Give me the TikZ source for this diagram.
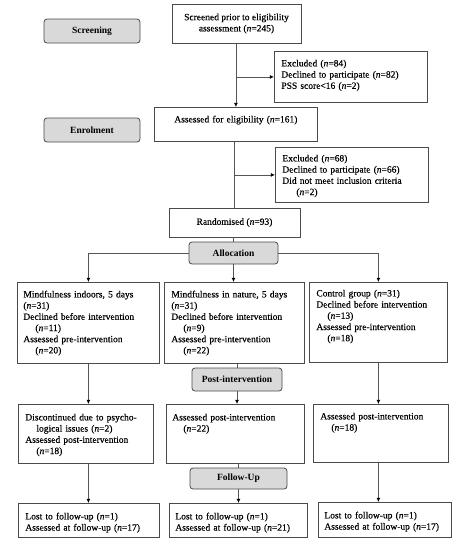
\documentclass[tikz,border=0pt]{standalone}
\usepackage{fontspec}
\setmainfont{Liberation Serif}[UprightFeatures={FakeBold=0.35},ItalicFeatures={FakeBold=0.35}]
\usetikzlibrary{arrows.meta}
\definecolor{boxc}{HTML}{4A4A4A}
\definecolor{linec}{HTML}{555555}
\definecolor{grayfill}{HTML}{D9D9D9}
\begin{document}
\begin{tikzpicture}[x=1pt,y=-1pt,
  tbox/.style={draw=boxc, line width=0.8pt, anchor=north west, inner xsep=7pt, inner ysep=0pt,
    align=left, text height=15pt, font=\fontsize{9.5}{11.2}\selectfont},
  cbox/.style={draw=boxc, line width=0.8pt, inner sep=0pt, align=center, font=\fontsize{9.5}{11.2}\selectfont},
  gbox/.style={draw=boxc, line width=0.8pt, fill=grayfill, rounded corners=3pt, inner sep=0pt,
    font=\fontsize{9.5}{11}\selectfont\bfseries},
  conn/.style={draw=linec, line width=0.8pt},
  arr/.style={conn, -{Latex[length=4.2pt,width=4pt,color=black]}}
]
\useasboundingbox (0,0) rectangle (459,550);
% phase labels
\node[gbox, minimum width=96pt, minimum height=24pt] (screen) at (92,31) {Screening};
\node[gbox, minimum width=96pt, minimum height=24pt] (enrol) at (92,130) {Enrolment};
% screening
\node[cbox, minimum width=129pt, minimum height=39pt] (scr) at (236.5,23.5)
  {Screened prior to eligibility\\assessment (\textit{n}=245)};
\node[tbox, text width=139pt, text depth=36pt] (ex1) at (274,51)
  {Excluded (\textit{n}=84)\\Declined to participate (\textit{n}=82)\\PSS score<16 (\textit{n}=2)};
\node[tbox, align=center, text width=149pt, text depth=19pt] (elig) at (154,107)
  {Assessed for eligibility (\textit{n}=161)};
\node[tbox, text width=139pt, text height=14pt, text depth=41pt] (ex2) at (275,147)
  {Excluded (\textit{n}=68)\\Declined to participate (\textit{n}=66)\\Did not meet inclusion criteria\\\hspace*{14pt}(\textit{n}=2)};
\node[cbox, minimum width=131pt, minimum height=29pt] (rand) at (234.5,222.5)
  {Randomised (\textit{n}=93)};
\node[gbox, minimum width=89pt, minimum height=22pt] (alloc) at (233.5,253) {Allocation};
% allocation boxes
\node[tbox, inner xsep=6pt, text width=130pt, text depth=66pt] (A) at (17,282)
  {Mindfulness indoors, 5 days\\(\textit{n}=31)\\Declined before intervention\\\hspace*{12pt}(\textit{n}=11)\\Assessed pre-intervention\\\hspace*{12pt}(\textit{n}=20)};
\node[tbox, text width=126pt, text depth=66pt] (B) at (164,282)
  {Mindfulness in nature, 5 days\\(\textit{n}=31)\\Declined before intervention\\\hspace*{12pt}(\textit{n}=9)\\Assessed pre-intervention\\\hspace*{12pt}(\textit{n}=22)};
\node[tbox, text width=124pt, text height=14pt, text depth=66pt] (C) at (309,282)
  {Control group (\textit{n}=31)\\Declined before intervention\\\hspace*{11pt}(\textit{n}=13)\\Assessed pre-intervention\\\hspace*{11pt}(\textit{n}=18)};
\node[gbox, minimum width=90pt, minimum height=23pt] (post) at (237,379.5) {Post-intervention};
% post-intervention
\node[tbox, text width=121pt, text height=16pt, text depth=43pt] (A2) at (18,404)
  {Discontinued due to psycho-\\\hspace*{11pt}logical issues (\textit{n}=2)\\Assessed post-intervention\\\hspace*{11pt}(\textit{n}=18)};
\node[tbox, inner xsep=6pt, text width=126pt, text height=16pt, text depth=43pt] (B2) at (166,404)
  {Assessed post-intervention\\\hspace*{11pt}(\textit{n}=22)};
\node[tbox, text width=121pt, text depth=43pt] (C2) at (313,404)
  {Assessed post-intervention\\\hspace*{11pt}(\textit{n}=18)};
\node[gbox, minimum width=97pt, minimum height=21pt] (fu) at (238.5,478.5) {Follow-Up};
% follow-up
\node[tbox, text width=127pt, text height=16pt, text depth=18pt] (A3) at (18,503)
  {Lost to follow-up (\textit{n}=1)\\Assessed at follow-up (\textit{n}=17)};
\node[tbox, inner xsep=6pt, text width=126pt, text height=16pt, text depth=18pt] (B3) at (169,503)
  {Lost to follow-up (\textit{n}=1)\\Assessed at follow-up (\textit{n}=21)};
\node[tbox, inner xsep=6pt, text width=121pt, text height=16pt, text depth=19pt] (C3) at (318,502)
  {Lost to follow-up (\textit{n}=1)\\Assessed at follow-up (\textit{n}=17)};
% connectors
\draw[arr] (elig.north |- scr.south) -- (elig.north);
\draw[arr] (elig.north |- ex1.west) -- (ex1.west);
\draw[conn] (elig.south -| rand.north) -- (rand.north);
\draw[arr] (rand.north |- ex2.west) -- (ex2.west);
\draw[conn] (rand.south -| alloc.north) -- (alloc.north);
\draw[arr] (alloc.west) -| (A.north);
\draw[arr] (alloc.east) -| (C.north);
\draw[arr] (alloc.south) -- (alloc.south |- B.north);
\draw[conn] (post.north |- B.south) -- (post.north);
\draw[arr] (post.south) -- (post.south |- B2.north);
\draw[conn] (fu.north |- B2.south) -- (fu.north);
\draw[arr] (fu.south) -- (fu.south |- B3.north);
\draw[arr] (A.south) -- (A.south |- A2.north);
\draw[arr] (A2.south -| A.south) -- (A3.north -| A.south);
\draw[arr] (C.south) -- (C.south |- C2.north);
\draw[arr] (C2.south -| C.south) -- (C3.north -| C.south);
\end{tikzpicture}
\end{document}
